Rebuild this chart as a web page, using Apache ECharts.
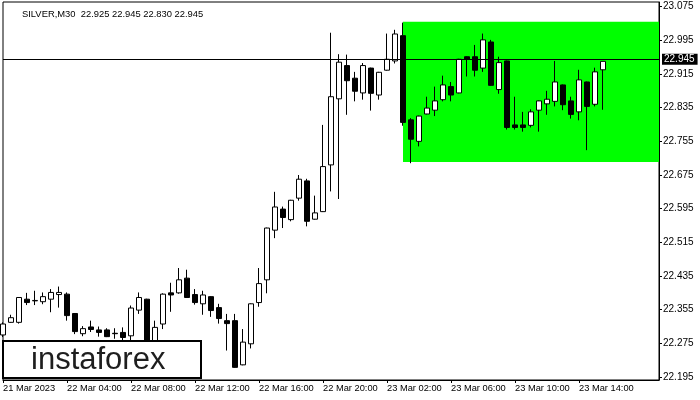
<!DOCTYPE html>
<html>
<head>
<meta charset="utf-8">
<script src="https://cdn.jsdelivr.net/npm/echarts@6/dist/echarts.min.js"></script>
<style>html,body{margin:0;padding:0;background:#fff}#c{width:700px;height:400px}</style>
</head>
<body>
<div id="c"></div>
<script>
// candle data [open, close, low, high]
const opens  = [22.295,22.325,22.325,22.380,22.376,22.374,22.380,22.391,22.392,22.346,22.298,22.314,22.307,22.307,22.299,22.301,22.293,22.354,22.380,22.272,22.321,22.395,22.395,22.430,22.391,22.369,22.386,22.360,22.329,22.329,22.224,22.274,22.372,22.426,22.544,22.594,22.569,22.620,22.661,22.570,22.588,22.699,22.856,22.935,22.905,22.870,22.929,22.865,22.924,22.946,23.006,22.806,22.755,22.820,22.829,22.854,22.885,22.870,22.956,22.956,22.929,22.991,22.878,22.946,22.794,22.794,22.793,22.829,22.844,22.850,22.889,22.851,22.825,22.896,22.843,22.925];
const closes = [22.321,22.336,22.384,22.372,22.377,22.386,22.396,22.396,22.341,22.303,22.310,22.308,22.301,22.291,22.298,22.289,22.359,22.384,22.270,22.313,22.392,22.390,22.426,22.384,22.372,22.390,22.353,22.334,22.322,22.218,22.278,22.369,22.417,22.549,22.599,22.574,22.615,22.665,22.565,22.585,22.695,22.861,22.943,22.899,22.874,22.935,22.869,22.919,22.950,23.010,22.800,22.760,22.815,22.834,22.851,22.889,22.865,22.950,22.950,22.924,22.996,22.888,22.942,22.788,22.788,22.788,22.825,22.851,22.855,22.896,22.842,22.819,22.901,22.838,22.920,22.945];
const lows   = [22.290,22.324,22.322,22.366,22.366,22.368,22.349,22.360,22.329,22.297,22.292,22.302,22.291,22.290,22.286,22.281,22.281,22.345,22.262,22.265,22.309,22.350,22.393,22.383,22.367,22.343,22.338,22.322,22.258,22.217,22.223,22.263,22.362,22.394,22.525,22.549,22.565,22.614,22.553,22.569,22.587,22.636,22.618,22.818,22.850,22.854,22.828,22.854,22.923,22.940,22.792,22.703,22.743,22.819,22.815,22.850,22.850,22.869,22.909,22.909,22.920,22.887,22.868,22.783,22.783,22.778,22.788,22.778,22.818,22.838,22.829,22.809,22.805,22.734,22.838,22.830];
const highs  = [22.325,22.343,22.385,22.395,22.400,22.396,22.404,22.410,22.396,22.347,22.316,22.329,22.315,22.311,22.311,22.313,22.365,22.396,22.381,22.329,22.394,22.419,22.454,22.450,22.404,22.400,22.387,22.369,22.345,22.345,22.309,22.370,22.454,22.550,22.635,22.600,22.616,22.675,22.666,22.626,22.794,23.013,22.962,22.961,22.920,22.941,22.930,22.920,23.011,23.020,23.037,22.810,22.816,22.861,22.885,22.911,22.896,22.951,22.957,22.984,23.011,22.996,22.956,22.947,22.861,22.825,22.831,22.852,22.875,22.946,22.890,22.861,22.925,22.897,22.930,22.945];

const totalSlots = 83; // visible bar slots across the chart window
const xTickLabels = ['21 Mar 2023','22 Mar 04:00','22 Mar 08:00','22 Mar 12:00','22 Mar 16:00','22 Mar 20:00','23 Mar 02:00','23 Mar 06:00','23 Mar 10:00','23 Mar 14:00'];
const xTickStep = 8;
const yTicks = [22.195,22.275,22.355,22.435,22.515,22.595,22.675,22.755,22.835,22.915,22.995,23.075];
const currentPrice = 22.945;
const rectStartIndex = 50;
const rectTop = 23.039;
const rectBottom = 22.706;
const titleText = 'SILVER,M30  22.925 22.945 22.830 22.945';

const categories = [];
for (let i = 0; i < totalSlots; i++) categories.push(String(i));
const candles = opens.map((o, i) => [o, closes[i], lows[i], highs[i]]);

const chart = echarts.init(document.getElementById('c'), null, {renderer: 'canvas'});
const FONT = 'Liberation Sans';
const showTick = (idx) => idx % xTickStep === 0 && (idx / xTickStep) < xTickLabels.length;

chart.setOption({
  animation: false,
  backgroundColor: '#fff',
  title: {
    text: titleText, left: 17, top: 5,
    textStyle: {fontFamily: FONT, fontSize: 9.4, fontWeight: 'normal', color: '#000'}
  },
  grid: {left: 3, top: 2, right: 41, bottom: 20, show: true, borderColor: '#000', borderWidth: 1, backgroundColor: 'transparent'},
  xAxis: {
    type: 'category', data: categories, boundaryGap: false,
    axisLine: {show: true, lineStyle: {color: '#000', width: 1}},
    axisTick: {show: true, length: 3, interval: (i) => showTick(i), lineStyle: {color: '#000'}},
    axisLabel: {
      interval: (i) => showTick(i), align: 'left', margin: 4,
      fontFamily: FONT, fontSize: 9.3, color: '#000',
      formatter: (v, i) => xTickLabels[i / xTickStep] || ''
    },
    splitLine: {show: false}
  },
  yAxis: {
    type: 'value', position: 'right', min: 22.188, max: 23.086, scale: true,
    axisLine: {show: true, lineStyle: {color: '#000', width: 1}},
    axisTick: {show: true, length: 3, customValues: yTicks, lineStyle: {color: '#000'}},
    axisLabel: {
      customValues: yTicks, margin: 4, fontFamily: FONT, fontSize: 10, color: '#000',
      formatter: (v) => Number(v).toFixed(3)
    },
    splitLine: {show: false}
  },
  series: [
    {
      type: 'line', data: [], silent: true, z: 1,
      markArea: {
        silent: true,
        itemStyle: {color: '#00ff00', opacity: 1},
        data: [[{xAxis: String(rectStartIndex), yAxis: rectTop}, {xAxis: String(totalSlots - 1), yAxis: rectBottom}]]
      }
    },
    {
      type: 'candlestick', data: candles, barWidth: 5, z: 3,
      itemStyle: {color: '#fff', color0: '#000', borderColor: '#000', borderColor0: '#000', borderWidth: 1},
      markLine: {
        silent: true, symbol: ['none', 'none'],
        lineStyle: {color: '#000', width: 1, type: 'solid'},
        label: {
          show: true, position: 'end', formatter: currentPrice.toFixed(3), distance: 3,
          backgroundColor: '#000', color: '#fff', fontFamily: FONT, fontSize: 10, padding: [1, 3, 0, 2]
        },
        data: [{yAxis: currentPrice}]
      }
    }
  ],
  graphic: [
    {type: 'rect', z: 100, shape: {x: 3, y: 341, width: 198, height: 37}, style: {fill: '#fff', stroke: '#000', lineWidth: 2}},
    {type: 'text', z: 101, x: 31, y: 360, style: {text: 'instaforex', fontFamily: FONT, fontSize: 31, fill: '#1e1e1e', verticalAlign: 'middle'}}
  ]
});
</script>
</body>
</html>
